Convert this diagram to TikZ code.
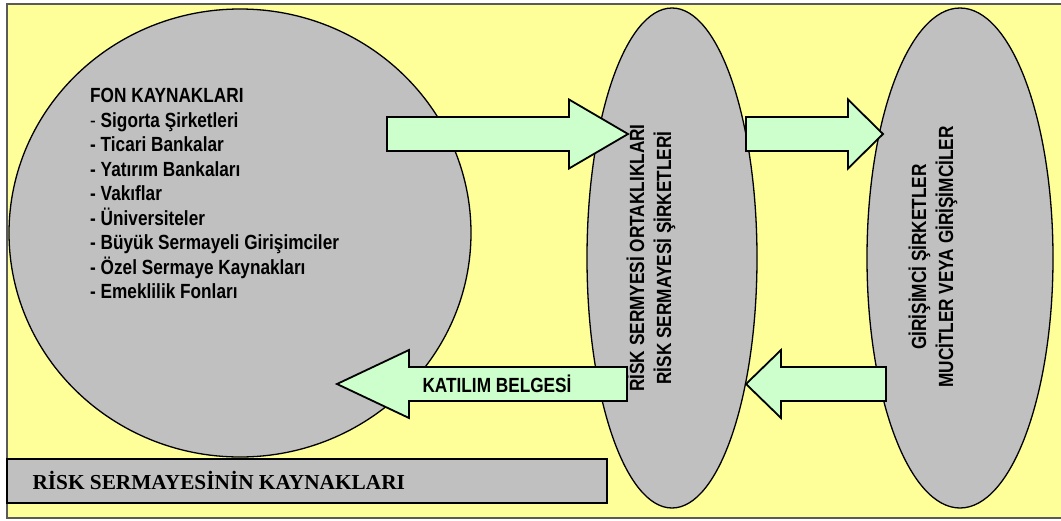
\documentclass[tikz,border=0pt]{standalone}
\usepackage{fontspec}
\usetikzlibrary{shapes.geometric}
\setmainfont{Liberation Sans}
\newfontfamily\narrowfont[FakeStretch=0.84]{Liberation Sans}
\newfontfamily\titlefont{Liberation Serif}

\definecolor{paper}{HTML}{FFFF99}
\definecolor{blob}{HTML}{C0C0C0}
\definecolor{flow}{HTML}{CCFFCC}
\definecolor{framegray}{HTML}{5A5A5A}

\tikzset{
  frame/.style={draw=framegray, line width=1.6pt, fill=paper},
  party/.style={ellipse, draw=black, line width=1.3pt, fill=blob, inner sep=0pt},
  blockarrow/.style={draw=black, line width=1.8pt, fill=flow, line join=miter},
  vlabel/.style={rotate=90, align=center, font=\narrowfont\bfseries\fontsize{20.5}{27}\selectfont},
  caption/.style={draw=black, line width=1.3pt, fill=blob}
}

% block arrow: tail x, head base x, tip x, axis y, shaft half height, head half height
\newcommand\fatarrow[6]{%
  \draw[blockarrow] (#1,#4-#5) -- (#2,#4-#5) -- (#2,#4-#6) -- (#3,#4)
    -- (#2,#4+#6) -- (#2,#4+#5) -- (#1,#4+#5) -- cycle;}

\begin{document}
\begin{tikzpicture}[x=1pt, y=-1pt]
  \useasboundingbox (0,0) rectangle (1061,520);
  \fill[white] (0,0) rectangle (1061,520);
  \draw[frame] (7,4) rectangle (1064,518);

  % sources of funds
  \node[party, minimum width=462pt, minimum height=448pt] (src) at (240,233) {};
  \node[anchor=north west, inner sep=0pt, align=left, font=\narrowfont\bfseries\fontsize{20.5}{24.5}\selectfont] (list) at (90,88)
    {FON KAYNAKLARI\\
     {\mdseries -} Sigorta Şirketleri\\
     - Ticari Bankalar\\
     - Yatırım Bankaları\\
     - Vakıflar\\
     - Üniversiteler\\
     - Büyük Sermayeli Girişimciler\\
     - Özel Sermaye Kaynakları\\
     - Emeklilik Fonları};

  % venture capital firms
  \node[party, minimum width=170pt, minimum height=500pt] (vc) at (672,258) {};
  % entrepreneurs
  \node[party, minimum width=186pt, minimum height=500pt] (ent) at (960,258) {};

  % flows between the parties
  \fatarrow{387}{569}{628}{134}{17}{34.5}
  \fatarrow{746}{848}{883}{134}{17}{34.5}
  \fatarrow{886}{781}{746}{384}{17}{34}
  \fatarrow{627}{409}{337}{384}{17}{34}
  \node[anchor=base, font=\narrowfont\bfseries\fontsize{20.5}{25}\selectfont] (cert) at (497,392) {KATILIM BELGESİ};

  \node[vlabel] (vctext) at (651,258) {RİSK SERMYESİ ORTAKLIKLARI\\RİSK SERMAYESİ ŞİRKETLERİ};
  \node[vlabel] (enttext) at (933,257) {GİRİŞİMCİ ŞİRKETLER\\MUCİTLER VEYA GİRİŞİMCİLER};

  % caption bar
  \draw[caption] (7,459) rectangle (607,503);
  \node[anchor=base west, font=\titlefont\bfseries\fontsize{21.3}{25}\selectfont] (title) at (29,489) {RİSK SERMAYESİNİN KAYNAKLARI};
\end{tikzpicture}
\end{document}
